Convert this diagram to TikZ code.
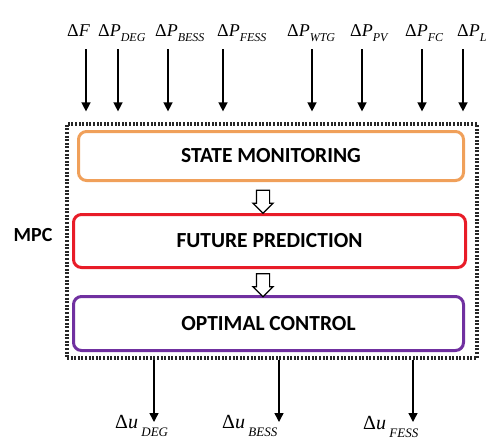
\documentclass[tikz,border=0pt]{standalone}
\usepackage{fontspec}
\setmainfont{Liberation Serif}
\newfontfamily\boxfont{Carlito}
\usetikzlibrary{arrows.meta,shapes.arrows}
\definecolor{smorange}{RGB}{240,160,90}
\definecolor{fpred}{RGB}{232,28,40}
\definecolor{ocpurple}{RGB}{112,48,160}
% input / output signal names
\newcommand{\dP}[2]{Δ\textit{#1}\raisebox{-0.3em}{\fontsize{12}{12}\selectfont\textit{#2}}}
\newcommand{\du}[1]{Δ\textit{u}\,\raisebox{-0.4em}{\fontsize{13}{13}\selectfont\textit{#1}}}
\tikzset{
	blk/.style={draw, rounded corners=8pt, line width=3pt, fill=white, font=\boxfont\bfseries\fontsize{21.5}{21.5}\selectfont},
	sig/.style={line width=1.4pt, -{Triangle[length=9pt,width=9pt]}},
	lbl/.style={anchor=base west, inner sep=0pt, font=\fontsize{18}{18}\selectfont},
	ulbl/.style={anchor=base west, inner sep=0pt, font=\fontsize{20}{20}\selectfont},
	hollow/.style={draw, line width=1.2pt, fill=white, single arrow, shape border rotate=270, minimum height=23pt, inner sep=6pt, single arrow head extend=3.5pt}
}
\begin{document}
\begin{tikzpicture}[x=1pt,y=-1pt]
	\useasboundingbox (0,0) rectangle (489,440);
	% MPC frame
	\node[draw=black!85, line width=3.2pt, dash pattern=on 2pt off 1.6pt, minimum width=410pt, minimum height=234pt, inner sep=0pt] (mpc) at (272,241) {};
	\node[font=\boxfont\bfseries\fontsize{20}{20}\selectfont] (mpclbl) at (33,235) {MPC};
	% stages
	\node[blk, draw=smorange, minimum width=385pt, minimum height=49pt] (sm) at (271,156) {STATE MONITORING};
	\node[blk, draw=fpred, minimum width=392pt, minimum height=53pt] (fp) at (269.5,241) {FUTURE PREDICTION};
	\node[blk, draw=ocpurple, minimum width=390pt, minimum height=54pt] (oc) at (268.5,323.5) {OPTIMAL CONTROL};
	\node[hollow] (h1) at (263,198.5) {};
	\node[hollow] (h2) at (263,282) {};
	% inputs
	\foreach \nm/\ax in {f/86, deg/118, bess/168, fess/223, wtg/312, pv/362, fc/422, l/463}{
		\coordinate (a-\nm) at (\ax,49);
		\draw[sig,shorten >=11pt] (a-\nm) -- (a-\nm |- mpc.north);
	}
	\node[lbl] (in-f) at (67,36) {Δ\textit{F}};
	\node[lbl] (in-deg) at (98,36) {\dP{P}{DEG}};
	\node[lbl] (in-bess) at (155,36) {\dP{P}{BESS}};
	\node[lbl] (in-fess) at (217,36) {\dP{P}{FESS}};
	\node[lbl] (in-wtg) at (287,36) {\dP{P}{WTG}};
	\node[lbl] (in-pv) at (350,36) {\dP{P}{PV}};
	\node[lbl] (in-fc) at (405,36) {\dP{P}{FC}};
	\node[lbl] (in-l) at (457,36) {\dP{P}{L}};
	% outputs
	\foreach \nm/\ax/\lx/\ly/\sub in {deg/154/115/428/DEG, bess/279/222/428/BESS, fess/413/363/429/FESS}{
		\coordinate (o-\nm) at (\ax,422);
		\draw[sig] (o-\nm |- mpc.south) -- (o-\nm);
		\node[ulbl] (out-\nm) at (\lx,\ly) {\du{\sub}};
	}
\end{tikzpicture}
\end{document}
